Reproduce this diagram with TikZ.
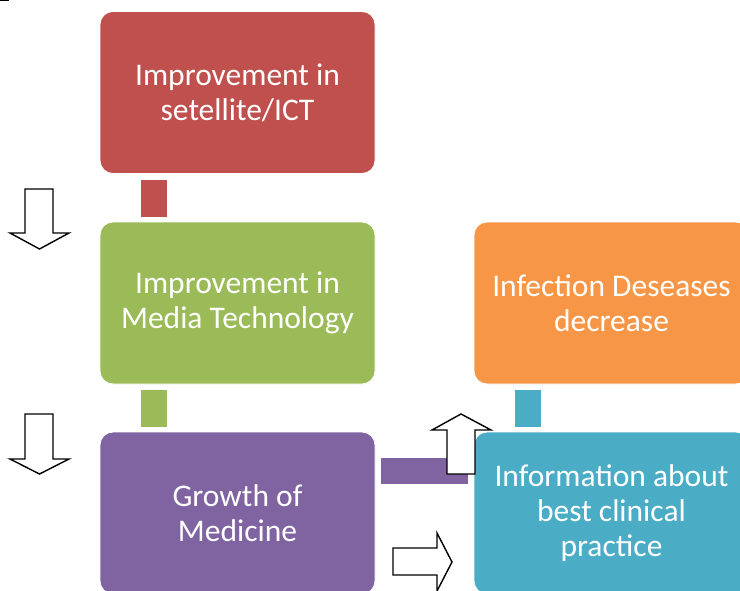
\documentclass[tikz,border=0pt]{standalone}
\usepackage{fontspec}
\setmainfont{Carlito}
\begin{document}
\begin{tikzpicture}[x=1pt,y=-1pt,
  card/.style={rectangle, rounded corners=13pt, minimum width=275pt,
    minimum height=162pt, inner sep=0pt, draw=white, line width=0.8pt,
    text=white, align=center,
    font=\fontsize{31.5pt}{35pt}\selectfont},
  link/.style={rectangle, inner sep=0pt, minimum width=26pt, minimum height=37pt},
  hollow/.style={draw=black, fill=white, line width=1.4pt, line join=miter}]
\definecolor{cRed}{HTML}{C0504D}
\definecolor{cGreen}{HTML}{9BBB59}
\definecolor{cPurple}{HTML}{8064A2}
\definecolor{cOrange}{HTML}{F79646}
\definecolor{cBlue}{HTML}{4BACC6}
\useasboundingbox (0,0) rectangle (740,590);
\clip (0,0) rectangle (740,590);
\fill[white] (0,0) rectangle (740,590);

% stages
\node[card, fill=cRed]    (sat)   at (237.5,92.5) {Improvement in\\setellite/ICT};
\node[card, fill=cGreen]  (media) at (237.5,303)  {Improvement in\\Media Technology};
\node[card, fill=cPurple] (med)   at (237.5,513)  {Growth of\\Medicine};
\node[card, fill=cBlue]   (info)  at (611.5,513)  {Information about\\best clinical\\practice};
\node[card, fill=cOrange] (inf)   at (611.5,303)  {Infection Deseases\\decrease};

% block links between stages
\node[link, fill=cRed]    (l1) at (154,198.5) {};
\node[link, fill=cGreen]  (l2) at (154,408.5) {};
\node[link, fill=cBlue]   (l4) at (528,408.5) {};
\node[rectangle, inner sep=0pt, minimum width=87pt, minimum height=26pt,
      fill=cPurple] (l3) at (424.5,471) {};

% hollow block arrows
\draw[hollow] (25,189) -- (53,189) -- (53,233) -- (69,233) -- (39.5,249)
  -- (10,233) -- (25,233) -- cycle;
\draw[hollow] (25,414) -- (53,414) -- (53,459) -- (69,459) -- (39.5,474)
  -- (10,459) -- (25,459) -- cycle;
\draw[hollow] (447,474) -- (475,474) -- (475,430) -- (491,430) -- (461,414)
  -- (432,430) -- (447,430) -- cycle;
\draw[hollow] (393,548) -- (437,548) -- (437,533) -- (452,562) -- (437,591)
  -- (437,575) -- (393,575) -- cycle;

% small mark in the corner
\draw[line width=1pt] (0,0.5) -- (9,0.5);
\end{tikzpicture}
\end{document}
